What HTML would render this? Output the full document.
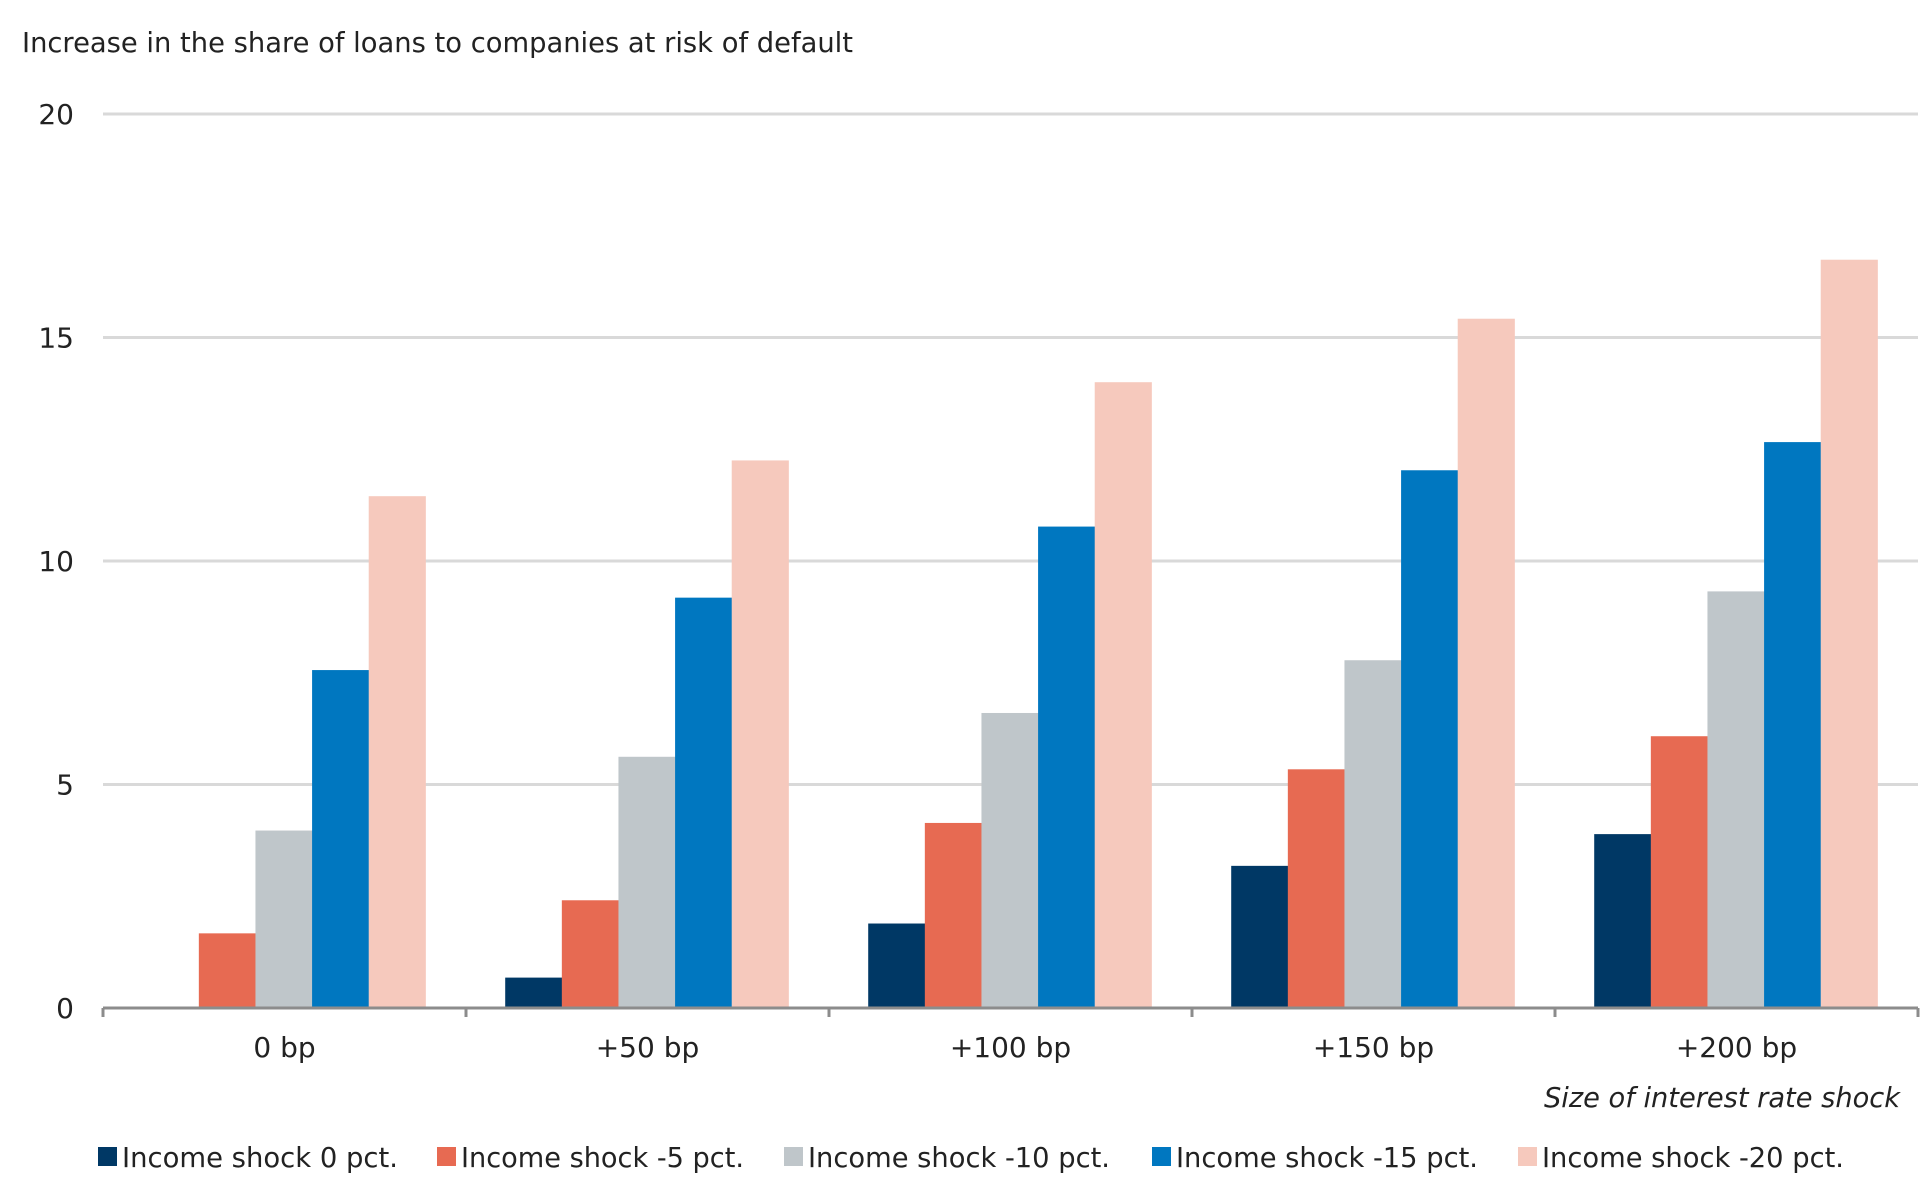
<!DOCTYPE html>
<html><head><meta charset="utf-8"><style>
html,body{margin:0;padding:0;background:#fff;}
svg{display:block;font-family:"DejaVu Sans","Liberation Sans",sans-serif;}
</style></head><body>
<svg id="chart" width="1920" height="1179" viewBox="0 0 1920 1179" xmlns="http://www.w3.org/2000/svg">
<text x="22" y="52" font-size="28" fill="#222" textLength="831" lengthAdjust="spacingAndGlyphs">Increase in the share of loans to companies at risk of default</text>
<g id="grid"></g><g id="bars"></g><g id="axis"></g>
<text x="1544" y="1107" font-size="28" font-style="italic" fill="#222" textLength="356" lengthAdjust="spacingAndGlyphs">Size of interest rate shock</text>
<g id="legend"></g>
</svg>
<script>
const categories=["0 bp","+50 bp","+100 bp","+150 bp","+200 bp"];
const seriesNames=["Income shock 0 pct.","Income shock -5 pct.","Income shock -10 pct.","Income shock -15 pct.","Income shock -20 pct."];
const s0=[0,0.68,1.89,3.18,3.89];
const s1=[1.67,2.41,4.14,5.34,6.08];
const s2=[3.97,5.62,6.6,7.78,9.32];
const s3=[7.56,9.18,10.77,12.03,12.66];
const s4=[11.45,12.25,14.0,15.42,16.74];
const yTicks=[0,5,10,15,20];
const series=[s0,s1,s2,s3,s4];
const colors=["#003865","#e76a52","#bfc6ca","#0077c0","#f6c9bd"];
const NS="http://www.w3.org/2000/svg";
const x0=103,x1=1918,y0=1008,yTop=114,yMax=20;
const gw=(x1-x0)/categories.length;
const bw=gw*0.156;
const y=v=>y0-(v/yMax)*(y0-yTop);
function mk(t,a,p){const e=document.createElementNS(NS,t);for(const k in a)e.setAttribute(k,a[k]);p.appendChild(e);return e;}
const grid=document.getElementById('grid'),bars=document.getElementById('bars'),axis=document.getElementById('axis'),leg=document.getElementById('legend');
yTicks.forEach(t=>{
  if(t>0){const l=mk('line',{x1:x0,x2:x1,y1:y(t),y2:y(t),stroke:'#d9d9d9','stroke-width':3},grid);
  
  }
  const tx=mk('text',{x:74,y:y(t)+10,'font-size':28,fill:'#222','text-anchor':'end'},axis);
  tx.textContent=t;
  
  
});
categories.forEach((c,i)=>{
  const gs=x0+i*gw;
  series.forEach((s,j)=>{
    const v=s[i];
    if(v<=0)return;
    const r=mk('rect',{x:gs+gw*0.108+j*bw,y:y(v),width:bw+0.5,height:y0-y(v),fill:colors[j]},bars);
    
    
  });
  const tx=mk('text',{x:gs+gw/2,y:1057,'font-size':28,fill:'#222','text-anchor':'middle'},axis);
  tx.textContent=c;
  
  
});
for(let i=0;i<=categories.length;i++){
  const t=mk('line',{x1:x0+i*gw,x2:x0+i*gw,y1:y0,y2:y0+9,stroke:'#8c8c8c','stroke-width':3},axis);
  
  
}
const ax=mk('line',{x1:x0,x2:x1,y1:y0,y2:y0,stroke:'#8c8c8c','stroke-width':3},axis);


const lx=[98,437,784,1152,1518];
const lw=[276,283,302,302,302];
seriesNames.forEach((n,j)=>{
  const g=mk('g',{},leg);
  
  
  mk('rect',{x:lx[j],y:1147,width:19,height:19,fill:colors[j]},g);
  const t=mk('text',{x:lx[j]+24,y:1167,'font-size':28,fill:'#222',textLength:lw[j],lengthAdjust:'spacingAndGlyphs'},g);
  t.textContent=n;
});
</script>
</body></html>
